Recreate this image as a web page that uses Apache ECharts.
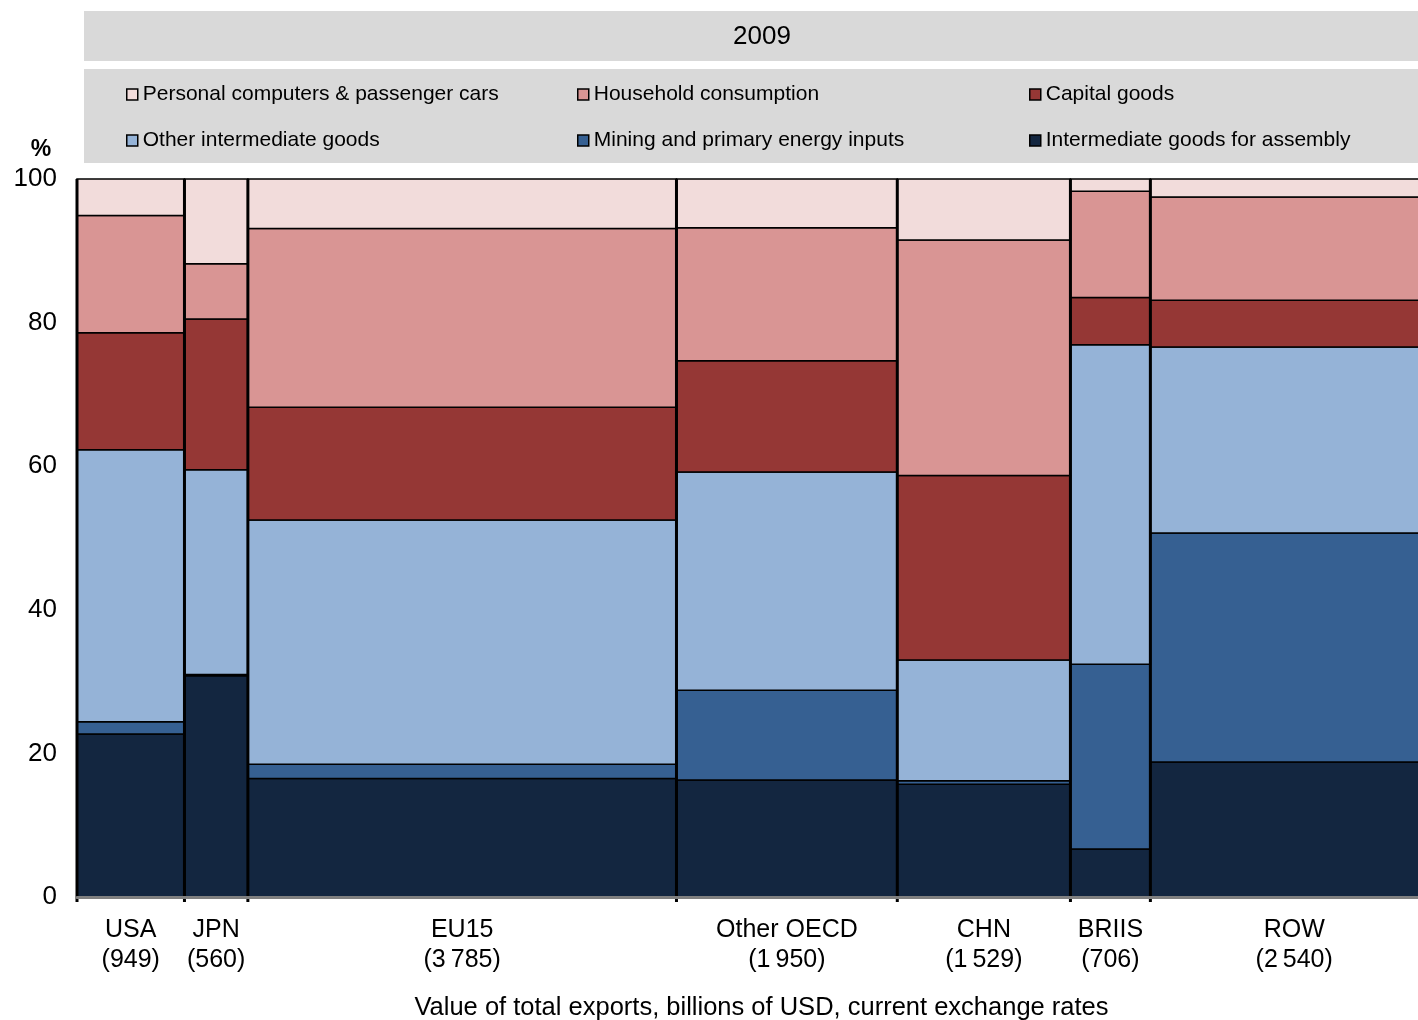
<!DOCTYPE html>
<html>
<head>
<meta charset="utf-8">
<title>Exports by end use, 2009</title>
<script src="https://cdn.jsdelivr.net/npm/echarts@6/dist/echarts.min.js"></script>
<style>
  html, body { margin: 0; padding: 0; background: #fff; }
  #main { width: 1418px; height: 1020px; }
</style>
</head>
<body>
<div id="main"></div>
<script>
// regions and their total exports (billions of USD) -> bar widths
var regions = ['USA', 'JPN', 'EU15', 'Other OECD', 'CHN', 'BRIIS', 'ROW'];
var exportsValue = [949, 560, 3785, 1950, 1529, 706, 2540];
var exportsLabel = ['949', '560', '3\u2009785', '1\u2009950', '1\u2009529', '706', '2\u2009540'];

// shares in %, bottom to top
var assembly  = [22.7, 30.8, 16.5, 16.3, 15.7,  6.7, 18.8];
var mining    = [ 1.7,  0.2,  2.0, 12.5,  0.5, 25.7, 31.9];
var otherInt  = [37.9, 28.5, 34.0, 30.4, 16.8, 44.5, 25.9];
var capital   = [16.3, 21.0, 15.7, 15.5, 25.7,  6.6,  6.5];
var household = [16.3,  7.7, 24.9, 18.5, 32.8, 14.8, 14.4];
var pcCars    = [ 5.1, 11.8,  6.9,  6.8,  8.5,  1.7,  2.5];

var yTicks = [0, 20, 40, 60, 80, 100];

var seriesNames = [
    'Intermediate goods for assembly',
    'Mining and primary energy inputs',
    'Other intermediate goods',
    'Capital goods',
    'Household consumption',
    'Personal computers & passenger cars'
];
var seriesData = [assembly, mining, otherInt, capital, household, pcCars];
var colors = ['#132640', '#366092', '#95B3D7', '#953735', '#D99594', '#F2DCDB'];

var FONT = '"Liberation Sans", Arial, sans-serif';

// cumulative x positions
var xStart = [];
var acc = 0;
for (var i = 0; i < exportsValue.length; i++) {
    xStart.push(acc);
    acc += exportsValue[i];
}
var xTotal = acc;

function renderRect(params, api) {
    var p0 = api.coord([api.value(0), api.value(3)]);
    var p1 = api.coord([api.value(1), api.value(2)]);
    return {
        type: 'rect',
        shape: { x: p0[0], y: p0[1], width: p1[0] - p0[0], height: p1[1] - p0[1] },
        style: { fill: api.visual('color'), stroke: '#000', lineWidth: 1.5 }
    };
}

function renderRegion(params, api) {
    var x0 = api.value(0), x1 = api.value(1);
    var top = api.coord([x0, 100]);
    var base = api.coord([x0, 0]);
    var mid = api.coord([(x0 + x1) / 2, 0]);
    var idx = params.dataIndex;
    return {
        type: 'group',
        children: [
            { type: 'line', shape: { x1: top[0], y1: top[1], x2: base[0], y2: base[1] + 5 },
              style: { stroke: '#000', lineWidth: 3 } },
            { type: 'text',
              style: { text: regions[idx] + '\n(' + exportsLabel[idx] + ')',
                       x: mid[0], y: base[1] + 18, align: 'center', verticalAlign: 'top',
                       fontSize: 25, fontFamily: FONT, lineHeight: 30, fill: '#000' } }
        ]
    };
}

var series = [];
for (var s = 0; s < seriesNames.length; s++) {
    var d = [];
    for (var r = 0; r < regions.length; r++) {
        var bottom = 0;
        for (var k = 0; k < s; k++) bottom += seriesData[k][r];
        var topV = s === seriesNames.length - 1 ? 100 : bottom + seriesData[s][r];
        d.push([xStart[r], xStart[r] + exportsValue[r], bottom, topV]);
    }
    series.push({
        name: seriesNames[s],
        type: 'custom',
        renderItem: renderRect,
        itemStyle: { color: colors[s] },
        encode: { x: [0, 1], y: [2, 3] },
        data: d,
        z: 2
    });
}
var regionData = [];
for (var r2 = 0; r2 < regions.length; r2++) {
    regionData.push([xStart[r2], xStart[r2] + exportsValue[r2]]);
}
series.push({
    type: 'custom',
    renderItem: renderRegion,
    encode: { x: [0, 1] },
    data: regionData,
    silent: true,
    z: 3
});

// legend: one component per item so the columns line up
var legendOrder = [5, 4, 3, 2, 1, 0];
var legendPos = [[126, 84], [577, 84], [1029, 84], [126, 130], [577, 130], [1029, 130]];
var legends = [];
for (var l = 0; l < legendOrder.length; l++) {
    legends.push({
        data: [seriesNames[legendOrder[l]]],
        left: legendPos[l][0],
        top: legendPos[l][1],
        padding: 0,
        icon: 'rect',
        itemWidth: 11,
        itemHeight: 11,
        itemStyle: { borderColor: '#000', borderWidth: 1.5 },
        selectedMode: false,
        textStyle: { fontSize: 21, fontFamily: FONT, color: '#000' }
    });
}

var chart = echarts.init(document.getElementById('main'));
chart.setOption({
    backgroundColor: '#fff',
    animation: false,
    graphic: [
        { type: 'rect', left: 84, top: 11, shape: { width: 1334, height: 50 }, style: { fill: '#D9D9D9' }, z: -1 },
        { type: 'rect', left: 84, top: 69, shape: { width: 1334, height: 94 }, style: { fill: '#D9D9D9' }, z: -1 },
        { type: 'text', x: 762, y: 37, style: { text: '2009', align: 'center', verticalAlign: 'middle',
          fontSize: 26, fontFamily: FONT, fill: '#000' } },
        { type: 'text', x: 41, y: 150, style: { text: '%', align: 'center', verticalAlign: 'middle',
          fontSize: 23, fontWeight: 'bold', fontFamily: FONT, fill: '#000' } }
    ],
    legend: legends,
    grid: { left: 77, top: 179, width: 1361, height: 718, outerBoundsMode: 'none' },
    xAxis: {
        type: 'value',
        min: 0,
        max: xTotal,
        z: 10,
        name: 'Value of total exports, billions of USD, current exchange rates',
        nameLocation: 'middle',
        nameGap: 98,
        nameTextStyle: { fontSize: 25.5, fontFamily: FONT, color: '#000', padding: [0, 0, 0, 8] },
        axisLine: { show: true, lineStyle: { color: '#808080', width: 3 } },
        axisTick: { show: false },
        axisLabel: { show: false },
        splitLine: { show: false }
    },
    yAxis: {
        type: 'value',
        min: yTicks[0],
        max: yTicks[yTicks.length - 1],
        interval: 20,
        axisLine: { show: false },
        axisTick: { show: false },
        splitLine: { show: false },
        axisLabel: { fontSize: 26, fontFamily: FONT, color: '#000', margin: 20 }
    },
    series: series
});
</script>
</body>
</html>
